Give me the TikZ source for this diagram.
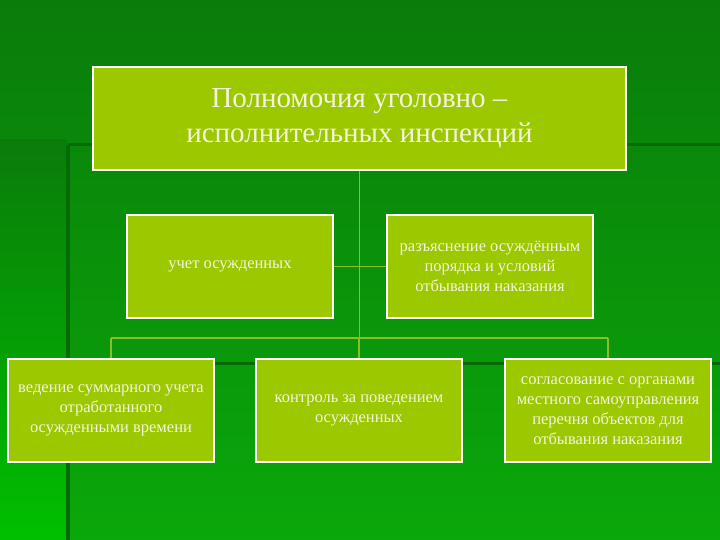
\documentclass[tikz,border=0pt]{standalone}
\usepackage{fontspec}
\setmainfont{Liberation Serif}
\begin{document}
\begin{tikzpicture}[x=1pt,y=-1pt,
  box/.style={draw=white,line width=1.6pt,fill=boxg,text=txt,align=center,inner sep=1pt,font=\fontsize{16.5}{20}\selectfont},
  conn/.style={draw=lineg,line width=1.4pt}]
\definecolor{boxg}{HTML}{9CC800}
\definecolor{txt}{HTML}{F4F4DC}
\definecolor{lineg}{HTML}{8CC020}
\definecolor{bgt}{HTML}{0A7C0A}
\definecolor{bgb}{HTML}{0AA80A}
\definecolor{dk}{HTML}{066A06}
\useasboundingbox (0,0) rectangle (720,540);
\shade[top color=bgt,bottom color=bgb] (0,0) rectangle (720,540);
\shade[top color=bgt,bottom color=green!75!black] (0,140) rectangle (67,540);
\draw[dk,line width=4pt] (68,145) -- (68,540);
\draw[dk,line width=3pt] (68,145) -- (720,145);
\draw[dk,line width=3pt] (68,363) -- (720,363);
\node[box,minimum width=533,minimum height=103,font=\fontsize{29}{35}\selectfont] (top) at (359.5,118.5) {Полномочия уголовно –\\исполнительных инспекций};
\node[box,minimum width=206,minimum height=103] (b1) at (230,266.5) {учет осужденных};
\node[box,minimum width=206,minimum height=103] (b2) at (490,266.5) {разъяснение осуждённым\\порядка и условий\\отбывания наказания};
\node[box,minimum width=206,minimum height=103] (c1) at (111,410.5) {ведение суммарного учета\\отработанного\\осужденными времени};
\node[box,minimum width=206,minimum height=103] (c2) at (359,410.5) {контроль за поведением\\осужденных};
\node[box,minimum width=206,minimum height=103] (c3) at (608,410.5) {согласование с органами\\местного самоуправления\\перечня объектов для\\отбывания наказания};
\coordinate (j) at (359.5,338);
\draw[conn] (top.south) -- (j);
\draw[conn] (b1.east) -- (b2.west);
\draw[conn] (c1.north |- j) -- (c3.north |- j);
\draw[conn] (c1.north |- j) -- (c1.north);
\draw[conn] (c2.north |- j) -- (c2.north);
\draw[conn] (c3.north |- j) -- (c3.north);
\end{tikzpicture}
\end{document}
